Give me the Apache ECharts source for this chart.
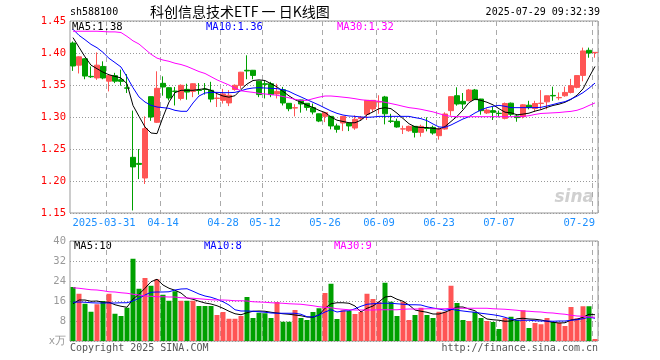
<!DOCTYPE html>
<html>
<head>
<meta charset="utf-8">
<script src="https://cdn.jsdelivr.net/npm/echarts@6/dist/echarts.min.js"></script>
<style>html,body{margin:0;padding:0;background:#fff;}#c{width:660px;height:360px;}</style>
</head>
<body>
<div id="c"></div>
<script>
const dates = ['2025-03-21','2025-03-24','2025-03-25','2025-03-26','2025-03-27','2025-03-28','2025-03-31',
'2025-04-01','2025-04-02','2025-04-03','2025-04-07','2025-04-08','2025-04-09','2025-04-10','2025-04-11','2025-04-14','2025-04-15','2025-04-16','2025-04-17','2025-04-18','2025-04-21','2025-04-22','2025-04-23','2025-04-24','2025-04-25','2025-04-28','2025-04-29','2025-04-30',
'2025-05-06','2025-05-07','2025-05-08','2025-05-09','2025-05-12','2025-05-13','2025-05-14','2025-05-15','2025-05-16','2025-05-19','2025-05-20','2025-05-21','2025-05-22','2025-05-23','2025-05-26','2025-05-27','2025-05-28','2025-05-29','2025-05-30',
'2025-06-03','2025-06-04','2025-06-05','2025-06-06','2025-06-09','2025-06-10','2025-06-11','2025-06-12','2025-06-13','2025-06-16','2025-06-17','2025-06-18','2025-06-19','2025-06-20','2025-06-23','2025-06-24','2025-06-25','2025-06-26','2025-06-27','2025-06-30',
'2025-07-01','2025-07-02','2025-07-03','2025-07-04','2025-07-07','2025-07-08','2025-07-09','2025-07-10','2025-07-11','2025-07-14','2025-07-15','2025-07-16','2025-07-17','2025-07-18','2025-07-21','2025-07-22','2025-07-23','2025-07-24','2025-07-25','2025-07-28','2025-07-29'];

const tickDates = ['2025-03-31','2025-04-14','2025-04-28','2025-05-12','2025-05-26','2025-06-09','2025-06-23','2025-07-07','2025-07-29'];

const openP  = [1.4156,1.381,1.391,1.3635,1.361,1.379,1.356,1.3646,1.3583,1.3455,1.237,1.2275,1.2047,1.3318,1.2917,1.3526,1.3458,1.3405,1.329,1.3432,1.340,1.342,1.3435,1.3417,1.329,1.326,1.322,1.343,1.3495,1.373,1.373,1.356,1.352,1.352,1.336,1.3427,1.3214,1.314,1.3266,1.3214,1.3146,1.305,1.301,1.301,1.286,1.2906,1.2906,1.2828,1.2974,1.3042,1.3125,1.3234,1.3313,1.2937,1.2932,1.2812,1.2786,1.2854,1.276,1.2825,1.2838,1.2708,1.2812,1.3099,1.3333,1.3245,1.3255,1.3422,1.3281,1.3063,1.3099,1.3058,1.2979,1.3216,1.3016,1.3005,1.3184,1.3132,1.3211,1.3237,1.3337,1.3300,1.3332,1.3384,1.3463,1.365,1.4042,1.4005];
const closeP = [1.3797,1.394,1.364,1.3628,1.381,1.361,1.3646,1.356,1.3557,1.345,1.222,1.226,1.2818,1.300,1.3448,1.3469,1.3297,1.340,1.3495,1.339,1.352,1.3415,1.343,1.328,1.3295,1.336,1.334,1.3495,1.370,1.372,1.365,1.335,1.351,1.335,1.340,1.3219,1.313,1.3146,1.3203,1.315,1.3078,1.2937,1.3068,1.286,1.2807,1.301,1.286,1.2964,1.2995,1.326,1.326,1.324,1.305,1.2932,1.2844,1.2815,1.2854,1.276,1.2854,1.2821,1.275,1.2812,1.3047,1.3318,1.3203,1.3203,1.3422,1.3271,1.3099,1.3109,1.3073,1.3055,1.3211,1.3042,1.299,1.319,1.3147,1.3211,1.3216,1.3332,1.3330,1.3305,1.3384,1.3489,1.3647,1.4032,1.400,1.401];
const lowP   = [1.372,1.368,1.359,1.361,1.358,1.359,1.340,1.353,1.349,1.3375,1.154,1.203,1.1953,1.294,1.2906,1.3333,1.326,1.318,1.326,1.327,1.331,1.335,1.335,1.323,1.3156,1.321,1.317,1.341,1.344,1.359,1.359,1.331,1.329,1.331,1.329,1.318,1.309,1.301,1.3068,1.310,1.304,1.292,1.292,1.2807,1.2755,1.278,1.278,1.280,1.2953,1.2953,1.308,1.305,1.2885,1.2906,1.2833,1.2734,1.277,1.268,1.2693,1.2776,1.2724,1.2646,1.2802,1.3021,1.3177,1.3125,1.3245,1.3266,1.3036,1.3047,1.2953,1.2995,1.2963,1.3016,1.2926,1.2979,1.312,1.3079,1.312,1.312,1.3253,1.3263,1.3316,1.3368,1.3447,1.3558,1.3926,1.3926];
const highP  = [1.418,1.395,1.392,1.379,1.401,1.387,1.3655,1.369,1.374,1.367,1.310,1.250,1.301,1.332,1.3714,1.3635,1.3465,1.3469,1.351,1.352,1.3525,1.353,1.353,1.355,1.339,1.344,1.342,1.351,1.3705,1.3964,1.3735,1.3565,1.357,1.355,1.352,1.347,1.3218,1.32,1.327,1.3218,1.321,1.3053,1.3072,1.3013,1.2896,1.3013,1.291,1.3026,1.3016,1.3263,1.3263,1.334,1.333,1.305,1.2974,1.2865,1.2865,1.2858,1.288,1.2995,1.2865,1.2838,1.3073,1.3322,1.3464,1.3375,1.3438,1.3438,1.3284,1.3135,1.3161,1.310,1.3226,1.3226,1.3042,1.32,1.3253,1.3253,1.342,1.3335,1.3474,1.3384,1.3474,1.3595,1.365,1.4084,1.4084,1.401];

const ma5P  = [1.424,1.409,1.394,1.381,1.3755,1.370,1.366,1.3635,1.361,1.352,1.318,1.301,1.2844,1.275,1.274,1.300,1.3234,1.338,1.3417,1.3417,1.3417,1.343,1.3443,1.3417,1.3365,1.3328,1.331,1.3333,1.343,1.3515,1.357,1.358,1.357,1.352,1.347,1.340,1.333,1.327,1.323,1.3185,1.315,1.3104,1.307,1.300,1.295,1.293,1.291,1.291,1.295,1.3035,1.308,1.313,1.3145,1.313,1.306,1.2977,1.2895,1.2847,1.2835,1.2836,1.2823,1.2812,1.285,1.293,1.301,1.311,1.3225,1.328,1.326,1.323,1.319,1.313,1.3075,1.3065,1.3035,1.3045,1.306,1.3092,1.3115,1.315,1.318,1.320,1.323,1.3275,1.334,1.344,1.362,1.379];
const ma10P = [1.437,1.4276,1.4208,1.4135,1.4083,1.401,1.3917,1.385,1.3781,1.3625,1.3458,1.3313,1.3234,1.3182,1.3156,1.3146,1.3135,1.3104,1.3089,1.3089,1.3219,1.3328,1.3375,1.3385,1.3385,1.338,1.338,1.3385,1.341,1.3438,1.3453,1.3458,1.3453,1.3448,1.3443,1.3427,1.340,1.3354,1.3313,1.327,1.3229,1.3187,1.314,1.3094,1.3057,1.3031,1.3016,1.301,1.300,1.2995,1.300,1.301,1.301,1.301,1.301,1.301,1.301,1.299,1.2974,1.2943,1.2891,1.2844,1.2839,1.2875,1.2922,1.2969,1.3005,1.3063,1.311,1.3146,1.3167,1.3182,1.3167,1.3146,1.3146,1.3146,1.3146,1.3146,1.3151,1.3172,1.3195,1.322,1.324,1.328,1.3325,1.338,1.345,1.353];
const ma30P = [1.434,1.434,1.434,1.434,1.434,1.4335,1.433,1.433,1.432,1.426,1.419,1.414,1.406,1.398,1.392,1.389,1.387,1.384,1.382,1.379,1.375,1.371,1.368,1.363,1.358,1.354,1.350,1.345,1.341,1.3396,1.3385,1.337,1.336,1.335,1.334,1.332,1.330,1.3276,1.326,1.326,1.3286,1.331,1.3328,1.3328,1.332,1.331,1.330,1.3286,1.327,1.326,1.3255,1.3245,1.323,1.321,1.319,1.3167,1.3146,1.3135,1.312,1.310,1.308,1.3052,1.3026,1.301,1.3005,1.3005,1.3005,1.3005,1.3005,1.3005,1.3005,1.3005,1.3005,1.3005,1.3005,1.301,1.302,1.304,1.3055,1.306,1.3065,1.307,1.308,1.3088,1.3105,1.3137,1.318,1.322];

const vol = [21.6,18.9,14.9,11.7,14.7,16,18.9,10.9,10,13.3,32.9,20.9,25.2,22.1,24.7,18.5,16.1,19.9,16.1,16.1,16.1,14,14,14,10.4,11.6,8.9,8.9,10,17.6,9.2,11.3,11.1,9.2,15.6,7.7,7.7,12.4,9.2,8.4,11.6,13.1,19.2,22.9,8.8,12.3,12,10.8,11.6,18.9,16.8,15.7,23.3,15.7,10,15.7,8.4,10.4,13.3,10.4,9.2,11.7,11.7,22.1,15.2,8.4,8,11.6,9.2,8,7.6,4.8,9.2,9.7,8.4,12.3,5.2,7.2,6.7,9.2,7.6,7.3,6,13.6,9.1,13.9,13.9,0.8];
const ma5V  = [14.9,16.4,16.4,15.9,16,15.5,15.5,14.5,13.9,13.5,16.8,18.7,21.1,23.7,24.7,22.4,21.1,20.3,19.2,17.2,16.7,15.9,15.2,14.8,14.1,13.1,11.9,10.9,10.5,11.3,11.9,12,11.9,11.5,11.2,10.9,10.7,10.4,10.1,9.6,9.5,10.4,13.1,14.9,15.3,15.3,15.1,14,11.6,13.1,14,15.7,17.6,17.9,16.7,15.9,14.4,12.4,11.9,11.5,10.8,10.8,11.5,12.5,13.6,13.6,12.8,12.1,10.3,8.8,8.5,8.3,7.9,8,8.9,9.1,8.8,8.7,8.4,7.9,7.5,7.2,7.3,8.4,8.7,9.5,10.7,10.5];
const ma10V = [15.5,15.6,15.5,15.3,15.2,15.2,15.2,15.2,15.3,15.3,16,17.1,18.4,19.5,19.6,19.6,19.7,20.4,20.8,20.9,19.9,18.8,18,17.5,16.7,15.7,14.4,12.5,12,12,11.9,11.7,11.5,11.2,11.1,11.1,11.1,11.1,10.7,9.7,9.6,10.4,11.6,12.5,11.6,12,12.1,12.9,13.9,14.7,14.9,15.1,15.1,15.1,14.9,14.7,14.5,14.5,14.4,13.7,13.2,12.8,12.3,12.7,12.3,12,11.7,11.5,11.1,10.8,10.5,10.1,9.5,8.7,8.3,8.3,8.3,8.1,8,8,7.9,8,8,8.3,8.5,8.9,9.5,9.1];
const ma30V = [21.3,21.1,20.8,20.5,20.4,20.1,19.7,19.6,19.3,19.1,18.7,18.4,18.0,17.9,17.7,17.7,17.6,17.6,17.3,17.2,17.1,16.9,16.7,16.5,16.4,16.4,16.3,16.1,16.1,16,15.7,15.6,15.5,15.3,15.2,15.1,14.9,14.8,14.7,14.4,14.1,13.7,13.5,13.3,12.9,12.7,12.5,12.4,12.4,12.4,12.4,12.5,12.5,12.5,12.5,12.7,12.8,12.8,12.8,12.9,12.9,12.9,12.9,13.1,13.1,13.1,13.1,13.1,13.1,13.1,12.9,12.8,12.7,12.5,12.3,12.0,11.9,11.7,11.6,11.3,11.2,10.9,10.7,10.3,10,9.9,9.6,9.5];

const priceTicks = [1.15, 1.45, 0.05];
const volTicks = [0, 40, 8];
const headerTexts = ['sh588100', '科创信息技术ETF 一 日K线图', '2025-07-29 09:32:39'];
const priceMaLabels = ['MA5:1.38', 'MA10:1.36', 'MA30:1.32'];
const volMaLabels = ['MA5:10', 'MA10:8', 'MA30:9'];
const footerTexts = ['Copyright 2025 SINA.COM', 'http://finance.sina.com.cn'];

const UP = '#ff5555', DOWN = '#00a000';
const MONO = 'DejaVu Sans Mono';
const candles = dates.map((d, i) => [openP[i], closeP[i], lowP[i], highP[i]]);
const volBars = vol.map((v, i) => ({ value: v, itemStyle: { color: closeP[i] >= openP[i] ? UP : DOWN } }));
const isTick = (idx, val) => tickDates.indexOf(val) >= 0;

const chart = echarts.init(document.getElementById('c'), null, { renderer: 'canvas' });
const txt = (x, y, text, color, font, align) => ({
  type: 'text', x: x, y: y, silent: true,
  style: { text: text, fill: color, font: font, align: align || 'left', verticalAlign: 'middle' }
});
const gridCommon = { show: true, borderColor: '#999', borderWidth: 1, backgroundColor: 'transparent' };
const splitDashed = { show: true, interval: isTick, lineStyle: { color: '#aaa', type: [5, 4], width: 1 } };

chart.setOption({
  animation: false,
  backgroundColor: '#fff',
  grid: [
    Object.assign({ left: 70, width: 528, top: 21, height: 192 }, gridCommon),
    Object.assign({ left: 70, width: 528, top: 241, height: 100 }, gridCommon)
  ],
  xAxis: [
    { type: 'category', gridIndex: 0, data: dates, boundaryGap: true,
      axisLine: { show: false }, axisTick: { show: false },
      axisLabel: { interval: isTick, color: '#1e90ff', fontFamily: MONO, fontSize: 10.5, margin: 5,
        alignMaxLabel: 'right',
        formatter: (v) => v === tickDates[0] ? '{f|' + v + '}' : v.slice(5),
        rich: { f: { color: '#1e90ff', fontFamily: MONO, fontSize: 10.5, padding: [0, 10, 0, 0] } } },
      splitLine: splitDashed },
    { type: 'category', gridIndex: 1, data: dates, boundaryGap: true,
      axisLine: { show: false }, axisTick: { show: false }, axisLabel: { show: false },
      splitLine: splitDashed }
  ],
  yAxis: [
    { type: 'value', gridIndex: 0, min: priceTicks[0], max: priceTicks[1], interval: priceTicks[2],
      axisLine: { show: false }, axisTick: { show: false },
      axisLabel: { color: '#ff0000', fontFamily: MONO, fontSize: 10.5, margin: 4, formatter: (v) => v.toFixed(2) },
      splitLine: { show: true, lineStyle: { color: '#999', type: [1, 2] } } },
    { type: 'value', gridIndex: 1, min: volTicks[0], max: volTicks[1], interval: volTicks[2],
      axisLine: { show: false }, axisTick: { show: false },
      axisLabel: { color: '#999', fontFamily: MONO, fontSize: 10.5, margin: 4,
        formatter: (v) => v === 0 ? 'x万' : String(v) },
      splitLine: { show: true, lineStyle: { color: '#999', type: [1, 2] } } }
  ],
  series: [
    { type: 'candlestick', xAxisIndex: 0, yAxisIndex: 0, data: candles, barWidth: 5,
      itemStyle: { color: UP, color0: DOWN, borderColor: UP, borderColor0: DOWN, borderWidth: 1 } },
    { type: 'line', xAxisIndex: 0, yAxisIndex: 0, data: ma5P, showSymbol: false, lineStyle: { color: '#000', width: 1 }, z: 5 },
    { type: 'line', xAxisIndex: 0, yAxisIndex: 0, data: ma10P, showSymbol: false, lineStyle: { color: '#0000ff', width: 1 }, z: 5 },
    { type: 'line', xAxisIndex: 0, yAxisIndex: 0, data: ma30P, showSymbol: false, lineStyle: { color: '#ff00ff', width: 1 }, z: 5 },
    { type: 'bar', xAxisIndex: 1, yAxisIndex: 1, data: volBars, barWidth: 5 },
    { type: 'line', xAxisIndex: 1, yAxisIndex: 1, data: ma5V, showSymbol: false, lineStyle: { color: '#000', width: 1 }, z: 5 },
    { type: 'line', xAxisIndex: 1, yAxisIndex: 1, data: ma10V, showSymbol: false, lineStyle: { color: '#0000ff', width: 1 }, z: 5 },
    { type: 'line', xAxisIndex: 1, yAxisIndex: 1, data: ma30V, showSymbol: false, lineStyle: { color: '#ff00ff', width: 1 }, z: 5 }
  ],
  graphic: [
    txt(70, 12, headerTexts[0], '#000', '10px ' + MONO),
    txt(150, 12, headerTexts[1], '#000', '14px "Noto Sans CJK SC"'),
    txt(600, 12, headerTexts[2], '#000', '10px ' + MONO, 'right'),
    txt(72, 27, priceMaLabels[0], '#000', '10.5px ' + MONO),
    txt(206, 27, priceMaLabels[1], '#0000ff', '10.5px ' + MONO),
    txt(337, 27, priceMaLabels[2], '#ff00ff', '10.5px ' + MONO),
    txt(74, 246, volMaLabels[0], '#000', '10.5px ' + MONO),
    txt(204, 246, volMaLabels[1], '#0000ff', '10.5px ' + MONO),
    txt(334, 246, volMaLabels[2], '#ff00ff', '10.5px ' + MONO),
    txt(70, 348, footerTexts[0], '#555', '10px ' + MONO),
    txt(598, 348, footerTexts[1], '#555', '10px ' + MONO, 'right'),
    txt(594, 198, 'sina', '#d0d0d0', 'italic bold 17px "DejaVu Sans"', 'right')
  ]
});
</script>
</body>
</html>
